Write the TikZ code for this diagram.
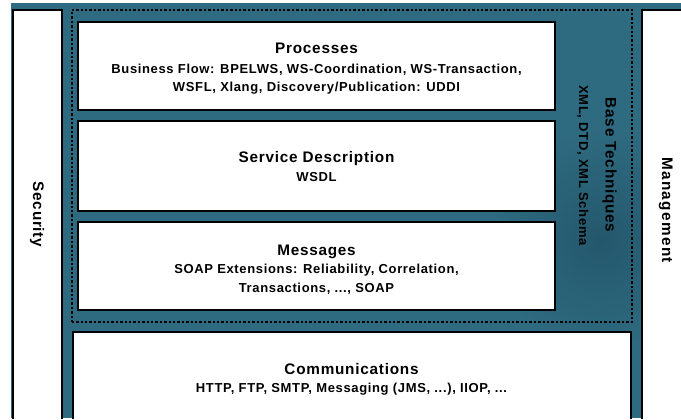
\documentclass[tikz,border=0pt]{standalone}
\usepackage{fontspec}
\setmainfont{Liberation Sans}[LetterSpace=5]
\usetikzlibrary{fit}
\definecolor{layerteal}{RGB}{46,106,128}
\definecolor{layertealdark}{RGB}{36,88,108}
\begin{document}
\begin{tikzpicture}[x=1pt,y=-1pt,
  layer/.style={draw=black, line width=2pt, fill=white, inner sep=0pt},
  groupframe/.style={draw=black, line width=2pt, dash pattern=on 2.4pt off 2pt, inner sep=0pt},
  title/.style={font=\bfseries\fontsize{15.3}{18}\selectfont, anchor=base, inner sep=0pt},
  detail/.style={font=\bfseries\fontsize{13}{18.7}\selectfont, anchor=base, align=center, inner sep=0pt}]
\useasboundingbox (0,0) rectangle (681,420);
\begin{scope}
  \clip (0,0) rectangle (681,418);
  % background band
  \fill[layerteal] (11,3) rectangle (681,418);
  \shade[inner color=layertealdark, outer color=layerteal] (600,240) circle (110);
  % dotted group around the upper three layers
  \node[groupframe, fit={(71.8,10) (632,322)}] (group) {};
  % side pillars
  \node[layer, fit={(12.7,10.5) (62,440)}] (security) {};
  \node[layer, fit={(642,10.5) (700,440)}] (management) {};
  % stacked layers
  \node[layer, fit={(78,21.7) (554.7,109.7)}] (processes) {};
  \node[layer, fit={(78,121) (554.7,211)}] (service) {};
  \node[layer, fit={(78,222) (554.7,310.3)}] (messages) {};
  \node[layer, fit={(72.5,332) (630.5,440)}] (comm) {};
\end{scope}
% labels (the base of a two-line label is its last line)
\node[title] (proct) at (316.5,54) {Processes};
\node[detail] (procd) at (316.5,92) {Business Flow: BPELWS, WS-Coordination, WS-Transaction,\\WSFL, Xlang, Discovery/Publication: UDDI};
\node[title] (servt) at (316.5,163) {Service Description};
\node[detail] (servd) at (316.5,182) {WSDL};
\node[title] (msgt) at (316.5,255) {Messages};
\node[detail] (msgd) at (316.5,292.5) {SOAP Extensions: Reliability, Correlation,\\Transactions, ..., SOAP};
\node[title] (commt) at (351.5,374) {Communications};
\node[detail] (commd) at (351.5,392) {HTTP, FTP, SMTP, Messaging (JMS, ...), IIOP, ...};
\node[title, rotate=-90] (sect) at (33,214.5) {Security};
\node[title, rotate=-90, font=\bfseries\fontsize{15.3}{18}\selectfont\addfontfeatures{LetterSpace=9}] (mgmt) at (662,210) {Management};
\node[title, rotate=-90] (baset) at (605.5,165) {Base Techniques};
\node[detail, rotate=-90] (based) at (579,165.5) {XML, DTD, XML Schema};
\end{tikzpicture}
\end{document}
